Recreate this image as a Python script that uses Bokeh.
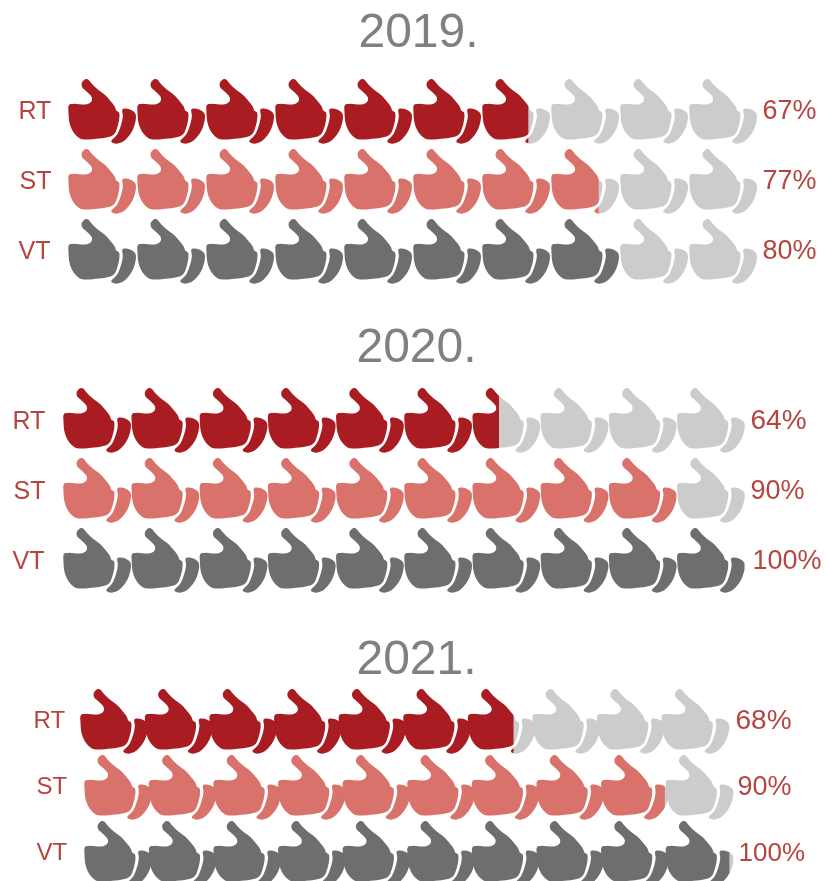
from bokeh.plotting import figure
from bokeh.layouts import column
from bokeh.models import Range1d
from bokeh.core.properties import value
from bokeh.embed import file_html
from bokeh.resources import INLINE

years = ["2019.", "2020.", "2021."]
categories = ["RT", "ST", "VT"]
values_2019 = [67, 77, 80]
values_2020 = [64, 90, 100]
values_2021 = [68, 90, 100]
all_values = [values_2019, values_2020, values_2021]
# how far the coloured part of each row actually reaches
fills_2019 = [66.8, 77, 80]
fills_2020 = [64, 90, 100]
fills_2021 = [67.2, 90, 100]
all_fills = [fills_2019, fills_2020, fills_2021]
icons_per_row = 10

colors = ["#a91c22", "#d9726a", "#6e6e6e"]
empty_color = "#cccccc"
title_color = "#808080"
label_color = "#b5453f"
FONT = "Liberation Sans"

# Pictogram outline (shape of one icon, traced at 3x)
body_x = [13, 30, 58, 73, 82, 80, 65, 53, 52, 62, 72, 84, 100, 120, 135, 150, 155, 164, 164, 158, 150, 135, 105, 65, 45, 26, 15, 12]
body_y = [92, 88, 90, 87, 78, 65, 50, 38, 25, 14, 16, 30, 45, 60, 76, 95, 108, 115, 135, 160, 178, 187, 192, 195, 191, 172, 145, 115]
cuff_x = [174, 195, 213, 212, 200, 180, 160, 145, 141, 158, 170, 175]
cuff_y = [104, 104, 118, 145, 175, 198, 207, 205, 198, 180, 150, 125]

layouts = [
    dict(h=313, x0=67, px=69.0, py=70.0, cy=110, sx=[0, 0, 0], tx=418, ty=30, fs=48,
         lx=[18, 19, 18], vx=[762, 762, 762], lf=[25, 25, 25], vf=[27, 27, 27], dy=-1),
    dict(h=312, x0=62, px=68.2, py=70.0, cy=106, sx=[0, 0, 0], tx=416, ty=32, fs=48,
         lx=[12, 13, 12], vx=[750, 750, 752], lf=[25, 25, 25], vf=[28, 27, 27], dy=0),
    dict(h=256, x0=83, px=64.6, py=66.0, cy=95, sx=[-4, 0, 0], tx=416, ty=32, fs=48,
         lx=[33, 36, 36], vx=[735, 737, 738], lf=[24, 24, 24], vf=[28, 27, 26], dy=-1),
]


def spline(xs, ys, steps=4):
    """Closed Catmull-Rom curve through the traced points, in template pixels."""
    n = len(xs)
    ox, oy = [], []
    for i in range(n):
        for s in range(steps):
            t = s / steps
            def cr(v):
                p0, p1, p2, p3 = v[i - 1], v[i], v[(i + 1) % n], v[(i + 2) % n]
                return 0.5 * (2 * p1 + (p2 - p0) * t + (2 * p0 - 5 * p1 + 4 * p2 - p3) * t * t
                              + (3 * p1 - p0 - 3 * p2 + p3) * t ** 3)
            ox.append(cr(xs) / 3 - 3)
            oy.append(cr(ys) / 3 - 4 - 32)
    return ox, oy


def clip(xs, ys, limit, keep_left):
    inside = (lambda x: x <= limit) if keep_left else (lambda x: x >= limit)
    ox, oy = [], []
    for i in range(len(xs)):
        a, b = xs[i], ys[i]
        c, d = xs[(i + 1) % len(xs)], ys[(i + 1) % len(xs)]
        if inside(a):
            ox.append(a); oy.append(b)
        if inside(a) != inside(c):
            t = (limit - a) / (c - a)
            ox.append(limit); oy.append(b + t * (d - b))
    return ox, oy


shapes = [spline(body_x, body_y), spline(cuff_x, cuff_y)]


def build(year, vals, fills, L):
    p = figure(width=825, height=L["h"], output_backend="svg", toolbar_location=None,
               x_range=Range1d(-L["x0"] / L["px"], (825 - L["x0"]) / L["px"]),
               y_range=Range1d((L["h"] - L["cy"]) / L["py"], -L["cy"] / L["py"]),
               min_border=0, outline_line_color=None, background_fill_color="white",
               border_fill_color="white", x_axis_type=None, y_axis_type=None)
    p.grid.visible = False
    for row, (cat, v, f) in enumerate(zip(categories, vals, fills)):
        filled = f / 100 * icons_per_row
        shift = L["sx"][row] / L["px"]
        fx, fy, ex, ey = [], [], [], []
        for i in range(icons_per_row):
            for sx_, sy_ in shapes:
                xs = [i + shift + x / L["px"] for x in sx_]
                ys = [row + y / L["py"] for y in sy_]
                a, b = clip(xs, ys, filled + shift, True)
                if len(a) > 2:
                    fx.append(a); fy.append(b)
                a, b = clip(xs, ys, filled + shift, False)
                if len(a) > 2:
                    ex.append(a); ey.append(b)
        if ex:
            p.patches(ex, ey, fill_color=empty_color, line_color=None)
        if fx:
            p.patches(fx, fy, fill_color=colors[row], line_color=None)
        ty = row + L["dy"] / L["py"]
        p.text([(L["lx"][row] - L["x0"]) / L["px"]], [ty], text=[cat],
               text_font=value(FONT), text_font_size=f'{L["lf"][row]}px',
               text_color=label_color, text_align="left", text_baseline="middle")
        p.text([(L["vx"][row] - L["x0"]) / L["px"]], [ty], text=[f"{v}%"],
               text_font=value(FONT), text_font_size=f'{L["vf"][row]}px',
               text_color=label_color, text_align="left", text_baseline="middle")
    p.text([(L["tx"] - L["x0"]) / L["px"]], [(L["ty"] - L["cy"]) / L["py"]], text=[year],
           text_font=value(FONT), text_font_size=f'{L["fs"]}px', text_color=title_color,
           text_align="center", text_baseline="middle")
    return p


figs = [build(y, v, f, L) for y, v, f, L in zip(years, all_values, all_fills, layouts)]
page = column(*figs, spacing=0, styles={"position": "fixed", "left": "0px", "top": "0px"})
open("out.html", "w").write(file_html(page, INLINE))
